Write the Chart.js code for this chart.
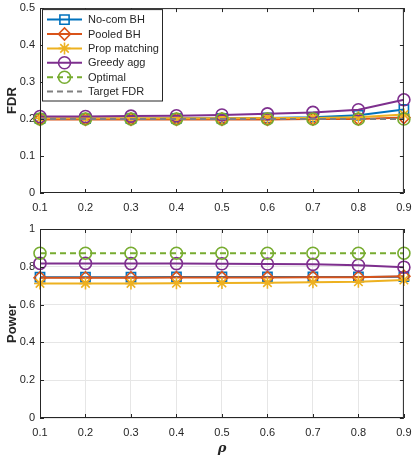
<!DOCTYPE html>
<html>
<head>
<meta charset="utf-8">
<script src="https://cdn.jsdelivr.net/npm/chart.js@4"></script>
<style>
  html, body { margin: 0; padding: 0; background: #fff; }
  #wrap { position: relative; width: 412px; height: 460px; }
  .box { position: absolute; left: 0; width: 412px; }
</style>
</head>
<body>
<div id="wrap">
  <div class="box" style="top:0;height:216px"><canvas id="fdrChart"></canvas></div>
  <div class="box" style="top:216px;height:244px"><canvas id="powChart"></canvas></div>
</div>
<script>
// data
const rho = ['0.1', '0.2', '0.3', '0.4', '0.5', '0.6', '0.7', '0.8', '0.9'];
const names = ['No-com BH', 'Pooled BH', 'Prop matching', 'Greedy agg', 'Optimal', 'Target FDR'];

const fdrNoCom   = [0.201, 0.201, 0.201, 0.202, 0.202, 0.203, 0.205, 0.210, 0.226];
const fdrPooled  = [0.199, 0.199, 0.199, 0.199, 0.199, 0.199, 0.200, 0.200, 0.204];
const fdrProp    = [0.202, 0.202, 0.202, 0.202, 0.202, 0.203, 0.203, 0.205, 0.212];
const fdrGreedy  = [0.207, 0.207, 0.208, 0.209, 0.211, 0.214, 0.218, 0.225, 0.252];
const fdrOptimal = [0.200, 0.200, 0.200, 0.200, 0.200, 0.200, 0.200, 0.200, 0.200];
const fdrTarget  = [0.200, 0.200, 0.200, 0.200, 0.200, 0.200, 0.200, 0.200, 0.200];

const powNoCom   = [0.745, 0.745, 0.745, 0.746, 0.746, 0.746, 0.746, 0.746, 0.748];
const powPooled  = [0.742, 0.742, 0.742, 0.743, 0.743, 0.744, 0.745, 0.745, 0.750];
const powProp    = [0.712, 0.712, 0.712, 0.713, 0.714, 0.716, 0.718, 0.721, 0.730];
const powGreedy  = [0.818, 0.818, 0.817, 0.817, 0.816, 0.815, 0.813, 0.808, 0.798];
const powOptimal = [0.872, 0.872, 0.872, 0.872, 0.872, 0.872, 0.872, 0.872, 0.872];

const fdrTicks = [0, 0.1, 0.2, 0.3, 0.4, 0.5];
const powTicks = [0, 0.2, 0.4, 0.6, 0.8, 1];

const colors = ['#0072BD', '#D95319', '#EDB120', '#7E2F8E', '#77AC30', '#808080'];
const markers = ['rect', 'rectRot', 'star', 'circle', 'circle', false];
const FONT = '"Liberation Sans", Arial, sans-serif';
const INK = '#262626';

function makeSet(i, values) {
    const dashed = i >= 4;
    return {
        label: names[i],
        data: values,
        borderColor: colors[i],
        backgroundColor: 'rgba(0,0,0,0)',
        borderWidth: 2,
        borderDash: dashed ? [6, 4] : [],
        pointStyle: markers[i],
        pointRadius: markers[i] ? (markers[i] === 'rect' ? 6.5 : 6) : 0,
        pointBorderWidth: 1.6,
        pointBackgroundColor: 'rgba(0,0,0,0)',
        pointBorderColor: colors[i],
        tension: 0,
        order: 10 - i
    };
}

// box round the axes with inward ticks, like matlab
const frame = {
    id: 'frame',
    afterDatasetsDraw(chart) {
        const ctx = chart.ctx, a = chart.chartArea;
        const xs = chart.scales.x, ys = chart.scales.y;
        ctx.save();
        ctx.strokeStyle = INK;
        ctx.lineWidth = 1;
        ctx.setLineDash([]);
        ctx.strokeRect(a.left + 0.5, a.top + 0.5, a.right - a.left - 1, a.bottom - a.top - 1);
        ctx.beginPath();
        xs.ticks.forEach((t, i) => {
            const px = Math.round(xs.getPixelForTick(i)) + 0.5;
            ctx.moveTo(px, a.bottom); ctx.lineTo(px, a.bottom - 4);
            ctx.moveTo(px, a.top); ctx.lineTo(px, a.top + 4);
        });
        ys.ticks.forEach((t, i) => {
            const py = Math.round(ys.getPixelForTick(i)) + 0.5;
            ctx.moveTo(a.left, py); ctx.lineTo(a.left + 4, py);
            ctx.moveTo(a.right, py); ctx.lineTo(a.right - 4, py);
        });
        ctx.stroke();
        ctx.restore();
    }
};

const legendBox = {
    id: 'legendBox',
    afterDraw(chart) {
        if (!chart.options.plugins.legendBox || !chart.options.plugins.legendBox.show) return;
        const ctx = chart.ctx, a = chart.chartArea;
        const sets = chart.data.datasets;
        const x0 = a.left + 2, y0 = a.top + 1, w = 120, rowH = 14.4;
        const h = sets.length * rowH + 5;
        ctx.save();
        ctx.fillStyle = '#fff';
        ctx.fillRect(x0, y0, w, h);
        ctx.strokeStyle = INK;
        ctx.lineWidth = 1;
        ctx.strokeRect(x0 + 0.5, y0 + 0.5, w, h);
        sets.forEach((ds, i) => {
            const y = y0 + 10.5 + i * rowH;
            ctx.strokeStyle = ds.borderColor;
            ctx.lineWidth = 2;
            ctx.setLineDash(ds.borderDash);
            ctx.beginPath();
            ctx.moveTo(x0 + 5, y);
            ctx.lineTo(x0 + 40, y);
            ctx.stroke();
            ctx.setLineDash([]);
            if (ds.pointStyle) {
                ctx.fillStyle = 'rgba(0,0,0,0)';
                ctx.lineWidth = ds.pointBorderWidth;
                Chart.helpers.drawPoint(ctx, {
                    pointStyle: ds.pointStyle, rotation: 0,
                    radius: ds.pointRadius, borderWidth: ds.pointBorderWidth
                }, x0 + 22.5, y);
            }
            ctx.fillStyle = INK;
            ctx.font = '11px ' + FONT;
            ctx.textBaseline = 'middle';
            ctx.fillText(ds.label, x0 + 46, y + 0.5);
        });
        ctx.restore();
    }
};

function makeChart(id, sets, ticks, yTitle, withGrid, xTitle, xHeight, padTop, legend) {
    return new Chart(document.getElementById(id), {
        type: 'line',
        data: { labels: rho, datasets: sets },
        plugins: [frame, legendBox],
        options: {
            responsive: true,
            maintainAspectRatio: false,
            animation: false,
            layout: { padding: { top: padTop, right: 8, bottom: 0, left: 0 } },
            plugins: {
                legend: { display: false },
                tooltip: { enabled: false },
                legendBox: { show: legend }
            },
            scales: {
                x: {
                    type: 'category',
                    offset: false,
                    grid: { display: withGrid, color: '#e6e6e6', drawTicks: false },
                    border: { display: false },
                    ticks: { color: INK, font: { family: FONT, size: 11 }, padding: 8, maxRotation: 0, autoSkip: false },
                    title: {
                        display: !!xTitle, text: xTitle, color: INK,
                        font: { family: 'DejaVu Serif, serif', size: 13, weight: 'bold', style: 'italic' },
                        padding: { top: 0, bottom: 4 }
                    },
                    afterFit: s => {
                        s.height = xHeight;
                        s.paddingLeft = 0; s.paddingRight = 0;
                    }
                },
                y: {
                    min: ticks[0],
                    max: ticks[ticks.length - 1],
                    afterBuildTicks: s => { s.ticks = ticks.map(v => ({ value: v })); },
                    grid: { display: withGrid, color: '#e6e6e6', drawTicks: false },
                    border: { display: false },
                    ticks: {
                        color: INK, font: { family: FONT, size: 11 }, padding: 5,
                        callback: v => String(+v.toFixed(1))
                    },
                    title: {
                        display: true, text: yTitle, color: INK,
                        font: { family: FONT, size: 13, weight: 'bold' },
                        padding: { top: 5, bottom: 0 }
                    },
                    afterFit: s => {
                        s.width = 40;
                        s.paddingTop = 0; s.paddingBottom = 0;
                    }
                }
            }
        }
    });
}

const fdrSets = [fdrNoCom, fdrPooled, fdrProp, fdrGreedy, fdrOptimal, fdrTarget].map((v, i) => makeSet(i, v));
const powSets = [powNoCom, powPooled, powProp, powGreedy, powOptimal].map((v, i) => makeSet(i, v));

makeChart('fdrChart', fdrSets, fdrTicks, 'FDR', false, '', 23, 6, true);
makeChart('powChart', powSets, powTicks, 'Power', true, 'ρ', 42, 13, false);
</script>
</body>
</html>
